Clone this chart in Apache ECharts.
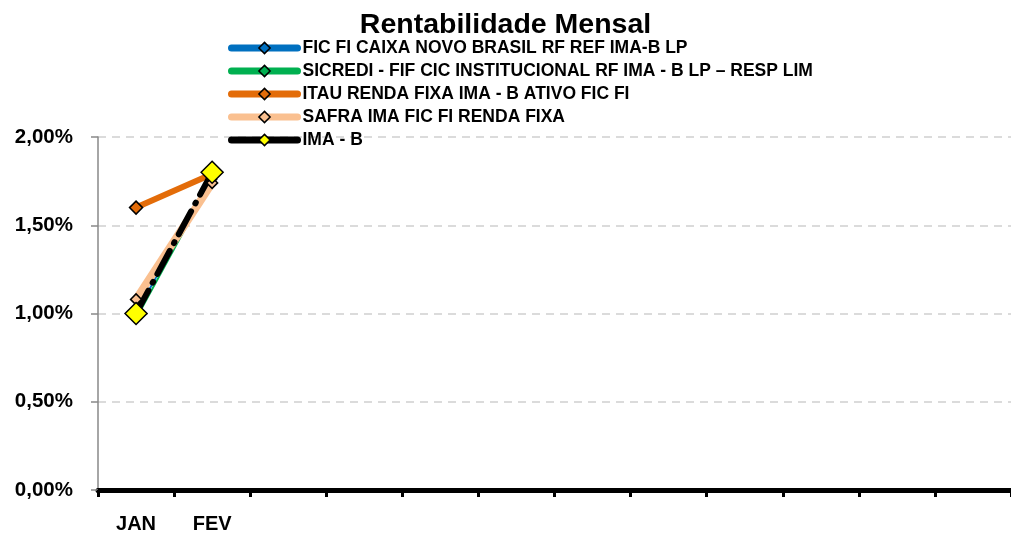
<!DOCTYPE html>
<html lang="pt">
<head>
    <meta charset="UTF-8">
    <title>Rentabilidade Mensal</title>
    <style>
        html,body{
            padding: 0;
            margin: 0;
            width: 100%;
            height: 100%;
            background: #fff;
        }
        .chart{
            width: 1011px;
            height: 534px;
        }
    </style>
    <script src="https://cdn.jsdelivr.net/npm/echarts@6/dist/echarts.min.js"></script>
</head>
<body>
<div class="chart"></div>
<script>
    // rentabilidade em %, por mês
    let months = ['JAN', 'FEV', '', '', '', '', '', '', '', '', '', ''];
    let caixa = [1.00, 1.78];
    let sicredi = [0.97, 1.76];
    let itau = [1.60, 1.79];
    let safra = [1.08, 1.74];
    let imab = [1.00, 1.80];

    let font = "'Liberation Sans Narrow', 'Liberation Sans', Arial, sans-serif";

    let chart = echarts.init(document.querySelector('.chart'));

    function serie(name, data, color, width, symbolSize, symbolColor, lineType) {
        return {
            name: name,
            type: 'line',
            data: data,
            symbol: 'diamond',
            symbolSize: symbolSize,
            showAllSymbol: true,
            lineStyle: {
                color: color,
                width: width,
                type: lineType || 'solid',
                cap: 'round'
            },
            itemStyle: {
                color: symbolColor,
                borderColor: '#000',
                borderWidth: 1.5
            }
        };
    }

    let series = [
        serie('FIC FI CAIXA NOVO BRASIL RF REF IMA-B LP', caixa, '#0070C0', 2, 9, '#0070C0'),
        serie('SICREDI - FIF CIC INSTITUCIONAL RF IMA - B LP – RESP LIM', sicredi, '#00B050', 2, 9, '#00B050'),
        serie('ITAU RENDA FIXA IMA - B ATIVO FIC FI', itau, '#E36C09', 6, 13, '#E36C09'),
        serie('SAFRA IMA FIC FI RENDA FIXA', safra, '#FAC090', 8, 11, '#FAC090'),
        serie('IMA - B', imab, '#000', 6, 22, '#FFFF00', [26, 9, 1, 9])
    ];

    let option = {
        animation: false,
        backgroundColor: '#fff',
        title: {
            text: 'Rentabilidade Mensal',
            left: 'center',
            top: 6,
            textStyle: {
                fontFamily: font,
                fontWeight: 'bold',
                fontSize: 28.5,
                color: '#000'
            }
        },
        legend: {
            orient: 'vertical',
            left: 223,
            top: 34,
            itemWidth: 66,
            itemHeight: 14,
            itemGap: 5,
            itemStyle: {
                borderColor: '#000',
                borderWidth: 1.5
            },
            lineStyle: {
                width: 7,
                type: 'solid'
            },
            textStyle: {
                fontFamily: font,
                fontWeight: 'bold',
                fontSize: 17.5,
                lineHeight: 14,
                color: '#000'
            },
            data: series.map(s => s.name)
        },
        grid: {
            left: 98,
            right: -5,
            top: 137,
            bottom: 44,
            containLabel: false
        },
        xAxis: {
            type: 'category',
            data: months,
            boundaryGap: true,
            axisLine: {
                lineStyle: {color: '#000', width: 5}
            },
            axisTick: {
                show: true,
                length: 7,
                lineStyle: {color: '#000', width: 3}
            },
            axisLabel: {
                interval: 0,
                margin: 24,
                fontFamily: font,
                fontWeight: 'bold',
                fontSize: 20,
                color: '#000'
            }
        },
        yAxis: {
            type: 'value',
            min: 0,
            max: 2,
            interval: 0.5,
            axisLine: {
                show: true,
                lineStyle: {color: '#898989', width: 1.5}
            },
            axisTick: {
                show: true,
                length: 7,
                lineStyle: {color: '#898989', width: 1.5}
            },
            axisLabel: {
                margin: 25,
                fontFamily: font,
                fontWeight: 'bold',
                fontSize: 20.5,
                color: '#000',
                formatter: v => v.toFixed(2).replace('.', ',') + '%'
            },
            splitLine: {
                lineStyle: {color: '#d0d0d0', type: [8, 6], width: 1.5}
            }
        },
        series: series
    };

    chart.setOption(option);
</script>
</body>
</html>
